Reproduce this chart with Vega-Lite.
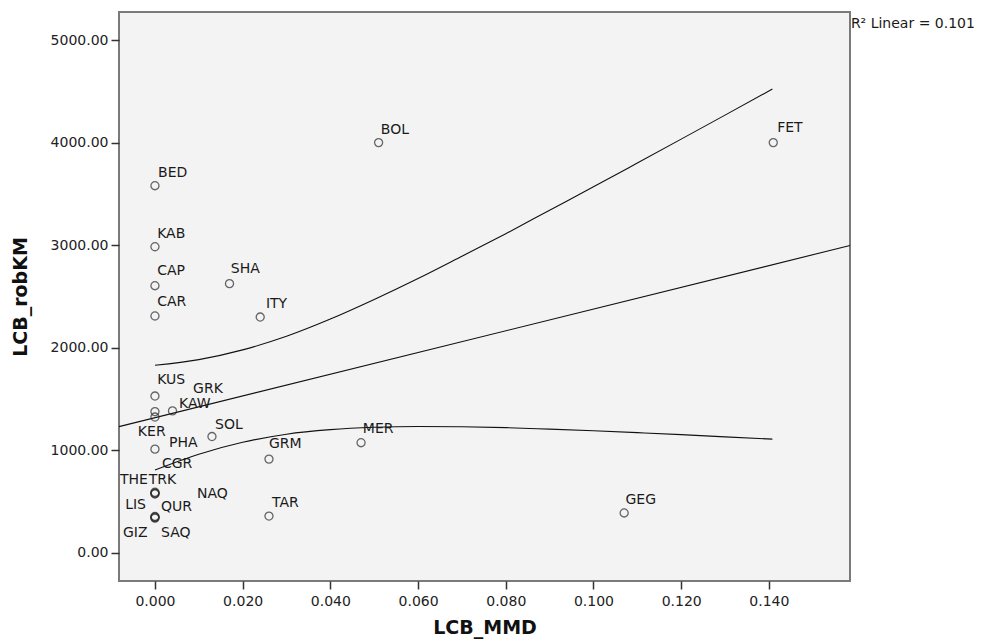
{
  "$schema": "https://vega.github.io/schema/vega-lite/v6.json",
  "width": 731,
  "height": 569,
  "autosize": {"type": "none"},
  "padding": {"left": 119, "top": 12, "right": 140, "bottom": 61},
  "background": "white",
  "datasets": {
    "pts": [
      {"name": "BOL", "x": 0.051, "y": 4000},
      {"name": "FET", "x": 0.141, "y": 4000},
      {"name": "BED", "x": 0, "y": 3580},
      {"name": "KAB", "x": 0, "y": 2985},
      {"name": "CAP", "x": 0, "y": 2605},
      {"name": "SHA", "x": 0.017, "y": 2625},
      {"name": "CAR", "x": 0, "y": 2310},
      {"name": "ITY", "x": 0.024, "y": 2300},
      {"name": "KUS", "x": 0, "y": 1530},
      {"name": "GRK", "x": 0, "y": 1378},
      {"name": "KER", "x": 0, "y": 1325},
      {"name": "KAW", "x": 0.004, "y": 1385},
      {"name": "SOL", "x": 0.013, "y": 1135},
      {"name": "PHA", "x": 0, "y": 1012},
      {"name": "MER", "x": 0.047, "y": 1075},
      {"name": "GRM", "x": 0.026, "y": 915},
      {"name": "CGR", "x": 0, "y": 592},
      {"name": "THE", "x": 0, "y": 580},
      {"name": "TRK", "x": 0, "y": 586},
      {"name": "NAQ", "x": 0, "y": 575},
      {"name": "LIS", "x": 0, "y": 356},
      {"name": "QUR", "x": 0, "y": 345},
      {"name": "GIZ", "x": 0, "y": 340},
      {"name": "SAQ", "x": 0, "y": 351},
      {"name": "TAR", "x": 0.026, "y": 360},
      {"name": "GEG", "x": 0.107, "y": 390}
    ],
    "labs": [
      {"name": "BOL", "x": 0.0515, "y": 4084},
      {"name": "FET", "x": 0.1419, "y": 4103},
      {"name": "BED", "x": 0.0007, "y": 3665},
      {"name": "KAB", "x": 0.0005, "y": 3070},
      {"name": "CAP", "x": 0.0005, "y": 2710},
      {"name": "SHA", "x": 0.0173, "y": 2729},
      {"name": "CAR", "x": 0.0005, "y": 2407},
      {"name": "ITY", "x": 0.0253, "y": 2388},
      {"name": "KUS", "x": 0.0005, "y": 1647},
      {"name": "GRK", "x": 0.0087, "y": 1560},
      {"name": "KAW", "x": 0.0055, "y": 1413},
      {"name": "KER", "x": -0.0039, "y": 1140},
      {"name": "PHA", "x": 0.0032, "y": 1033},
      {"name": "SOL", "x": 0.0137, "y": 1209},
      {"name": "CGR", "x": 0.0016, "y": 828},
      {"name": "THE", "x": -0.0080, "y": 673},
      {"name": "TRK", "x": -0.0014, "y": 673},
      {"name": "NAQ", "x": 0.0096, "y": 536},
      {"name": "LIS", "x": -0.0068, "y": 429},
      {"name": "QUR", "x": 0.0014, "y": 409},
      {"name": "GIZ", "x": -0.0073, "y": 156},
      {"name": "SAQ", "x": 0.0014, "y": 156},
      {"name": "GRM", "x": 0.0260, "y": 1023},
      {"name": "MER", "x": 0.0474, "y": 1170},
      {"name": "TAR", "x": 0.0267, "y": 450},
      {"name": "GEG", "x": 0.1073, "y": 478}
    ],
    "lines": [
      {"bound": "fit", "x": -0.0082, "y": 1232},
      {"bound": "fit", "x": 0.1585, "y": 2997},
      {"bound": "upper", "x": 0, "y": 1830},
      {"bound": "upper", "x": 0.01, "y": 1885},
      {"bound": "upper", "x": 0.02, "y": 1980},
      {"bound": "upper", "x": 0.03, "y": 2112},
      {"bound": "upper", "x": 0.04, "y": 2280},
      {"bound": "upper", "x": 0.05, "y": 2471},
      {"bound": "upper", "x": 0.06, "y": 2675},
      {"bound": "upper", "x": 0.07, "y": 2892},
      {"bound": "upper", "x": 0.08, "y": 3112},
      {"bound": "upper", "x": 0.09, "y": 3341},
      {"bound": "upper", "x": 0.10, "y": 3569},
      {"bound": "upper", "x": 0.11, "y": 3801},
      {"bound": "upper", "x": 0.12, "y": 4034},
      {"bound": "upper", "x": 0.13, "y": 4268},
      {"bound": "upper", "x": 0.1408, "y": 4522},
      {"bound": "lower", "x": 0, "y": 809},
      {"bound": "lower", "x": 0.01, "y": 963},
      {"bound": "lower", "x": 0.02, "y": 1079},
      {"bound": "lower", "x": 0.03, "y": 1158},
      {"bound": "lower", "x": 0.04, "y": 1202},
      {"bound": "lower", "x": 0.05, "y": 1225},
      {"bound": "lower", "x": 0.06, "y": 1233},
      {"bound": "lower", "x": 0.07, "y": 1230},
      {"bound": "lower", "x": 0.08, "y": 1222},
      {"bound": "lower", "x": 0.09, "y": 1207},
      {"bound": "lower", "x": 0.10, "y": 1191},
      {"bound": "lower", "x": 0.11, "y": 1173},
      {"bound": "lower", "x": 0.12, "y": 1154},
      {"bound": "lower", "x": 0.13, "y": 1132},
      {"bound": "lower", "x": 0.1408, "y": 1110}
    ],
    "ann": [
      {"label": "R² Linear = 0.101", "x": 0.1587, "y": 5117}
    ]
  },
  "layer": [
    {
      "data": {"name": "lines"},
      "mark": {"type": "line", "color": "#111111", "strokeWidth": 1.1, "interpolate": "monotone"},
      "encoding": {
        "x": {
          "field": "x", "type": "quantitative",
          "scale": {"domain": [-0.0082, 0.1585], "nice": false, "zero": false},
          "axis": {"title": "LCB_MMD", "values": [0, 0.02, 0.04, 0.06, 0.08, 0.1, 0.12, 0.14], "format": ".3f", "labelPadding": 5, "titlePadding": 10}
        },
        "y": {
          "field": "y", "type": "quantitative",
          "scale": {"domain": [-273, 5273], "nice": false, "zero": false},
          "axis": {"title": "LCB_robKM", "values": [0, 1000, 2000, 3000, 4000, 5000], "format": ".2f", "labelPadding": 3, "titlePadding": 20}
        },
        "detail": {"field": "bound", "type": "nominal"}
      }
    },
    {
      "data": {"name": "pts"},
      "mark": {"type": "point", "shape": "circle", "filled": false, "size": 65, "stroke": "#2a2a2a", "strokeWidth": 1.3},
      "encoding": {
        "x": {"field": "x", "type": "quantitative"},
        "y": {"field": "y", "type": "quantitative"}
      }
    },
    {
      "data": {"name": "labs"},
      "mark": {"type": "text", "align": "left", "baseline": "alphabetic", "font": "DejaVu Sans", "fontSize": 14, "color": "#1a1a1a"},
      "encoding": {
        "x": {"field": "x", "type": "quantitative"},
        "y": {"field": "y", "type": "quantitative"},
        "text": {"field": "name", "type": "nominal"}
      }
    },
    {
      "data": {"name": "ann"},
      "mark": {"type": "text", "align": "left", "baseline": "alphabetic", "font": "DejaVu Sans", "fontSize": 14, "color": "#1a1a1a"},
      "encoding": {
        "x": {"field": "x", "type": "quantitative"},
        "y": {"field": "y", "type": "quantitative"},
        "text": {"field": "label", "type": "nominal"}
      }
    }
  ],
  "config": {
    "view": {"fill": "#f3f3f3", "stroke": "#7a7a7a", "strokeWidth": 2},
    "axis": {
      "domain": false,
      "grid": false,
      "ticks": true,
      "tickSize": 8,
      "tickWidth": 1.5,
      "tickColor": "#333333",
      "labelFont": "DejaVu Sans",
      "labelFontSize": 14,
      "labelColor": "#222222",
      "titleFont": "DejaVu Sans",
      "titleFontSize": 19,
      "titleFontWeight": "bold",
      "titleColor": "#111111"
    }
  }
}
